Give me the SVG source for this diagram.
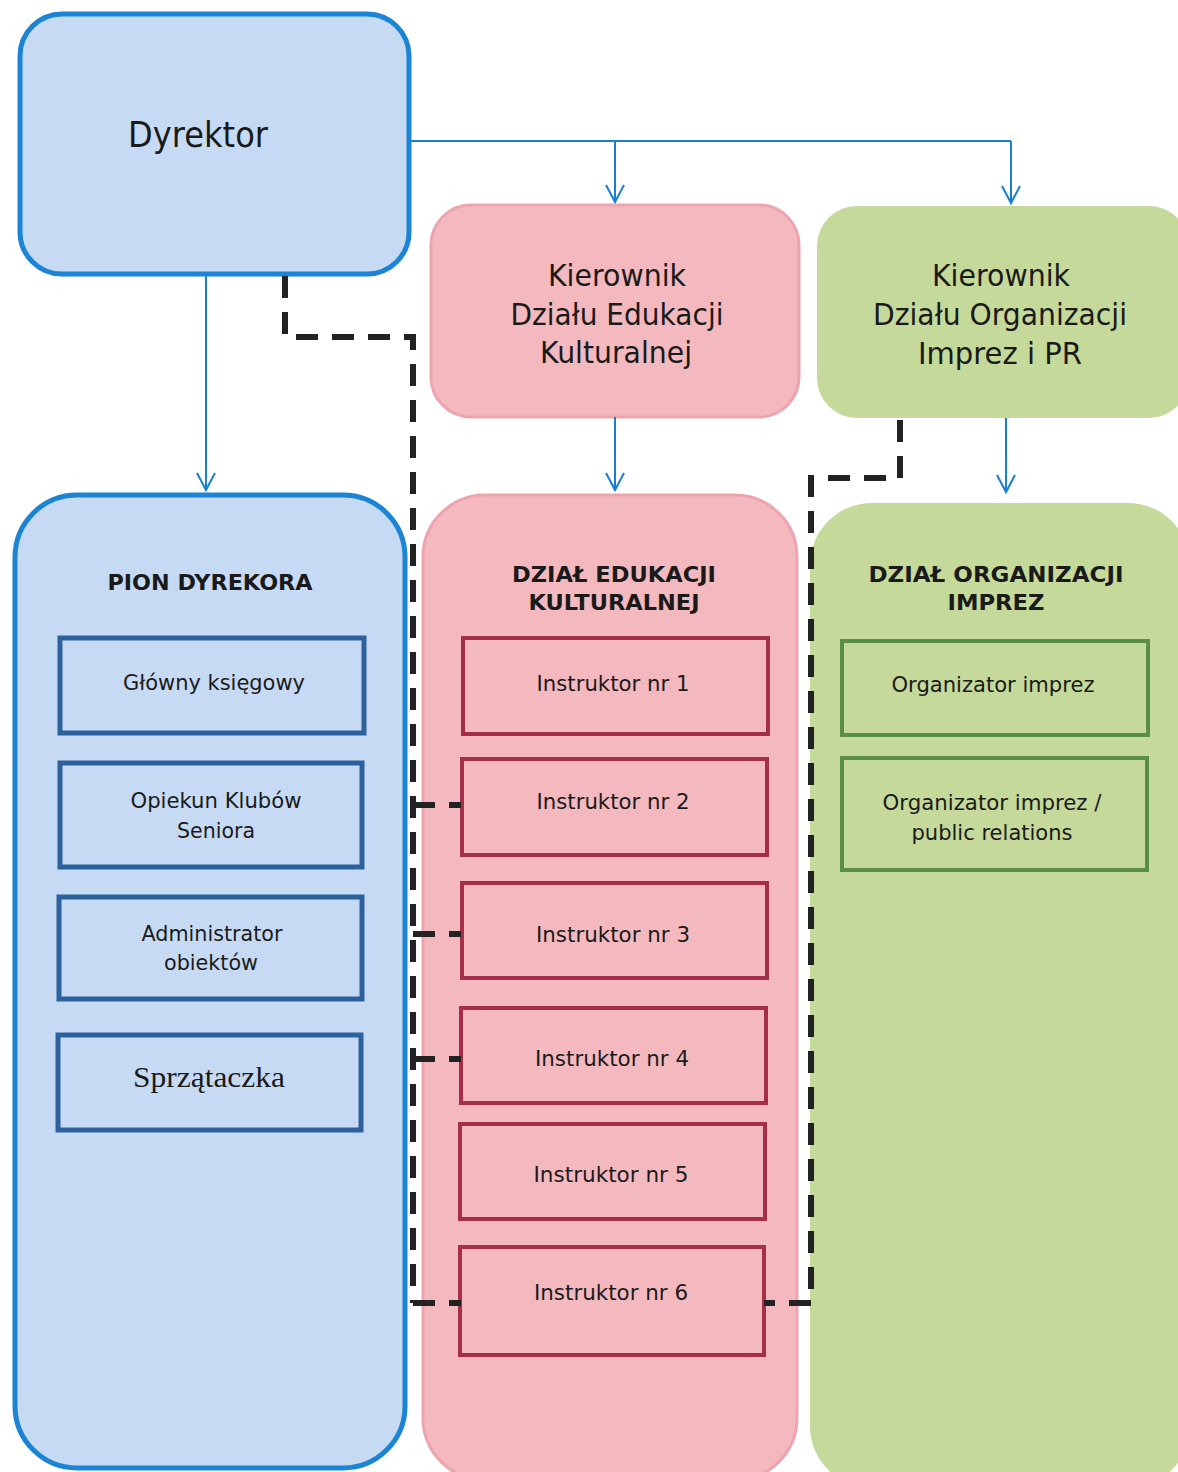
<svg xmlns="http://www.w3.org/2000/svg" width="1178" height="1472" viewBox="0 0 1178 1472">
<style>
.t{font-family:"DejaVu Sans","Noto Sans",sans-serif;fill:#1a1a1a;text-anchor:middle}
.big{font-size:30px}
.sm{font-size:22px}
.hd{font-size:21px;font-weight:bold}
.blueBox{fill:#c7daf4;stroke:#1b84d4;stroke-width:5}
.pinkBox{fill:#f4b8bf;stroke:#eea4ae;stroke-width:3}
.greenBox{fill:#c5d99b}
.bIn{fill:none;stroke:#2c619e;stroke-width:5}
.rIn{fill:none;stroke:#a52f4b;stroke-width:4}
.gIn{fill:none;stroke:#5b8e45;stroke-width:4}
.arr{fill:none;stroke:#1b7fcf;stroke-width:2}
.dash{fill:none;stroke:#222;stroke-width:6;stroke-dasharray:22 14}
</style>
<defs>
<marker id="v" markerUnits="userSpaceOnUse" markerWidth="22" markerHeight="22" viewBox="-19 -11 22 22" refX="0" refY="0" orient="auto">
<path d="M-17,-9 L0,0 L-17,9" fill="none" stroke="#1b7fcf" stroke-width="2"/>
</marker>
</defs>
<rect width="1178" height="1472" fill="#fff"/>

<g id="dyrektor">
<rect class="blueBox" x="20" y="14" width="389" height="260" rx="42"/>
<text class="t" x="198" y="147" font-size="36" textLength="140" lengthAdjust="spacingAndGlyphs">Dyrektor</text>
</g>

<g id="kierownik-edukacji">
<rect class="pinkBox" x="431" y="205" width="368" height="212" rx="40"/>
<text class="t big" x="617" y="286" textLength="138" lengthAdjust="spacingAndGlyphs">Kierownik</text>
<text class="t big" x="617" y="325" textLength="213" lengthAdjust="spacingAndGlyphs">Działu Edukacji</text>
<text class="t big" x="616" y="363" textLength="152" lengthAdjust="spacingAndGlyphs">Kulturalnej</text>
</g>

<g id="kierownik-organizacji">
<rect class="greenBox" x="817" y="206" width="372" height="212" rx="40"/>
<text class="t big" x="1001" y="286" textLength="138" lengthAdjust="spacingAndGlyphs">Kierownik</text>
<text class="t big" x="1000" y="325" textLength="254" lengthAdjust="spacingAndGlyphs">Działu Organizacji</text>
<text class="t big" x="1000" y="364" textLength="164" lengthAdjust="spacingAndGlyphs">Imprez i PR</text>
</g>

<g id="pion-dyrektora">
<rect class="blueBox" x="15" y="495" width="390" height="973" rx="62"/>
<text class="t hd" x="210" y="590" textLength="205" lengthAdjust="spacingAndGlyphs">PION DYREKORA</text>
</g>
<g id="glowny-ksiegowy">
<rect class="bIn" x="60" y="638" width="304" height="95"/>
<text class="t sm" x="214" y="690" textLength="182" lengthAdjust="spacingAndGlyphs">Główny księgowy</text>
</g>
<g id="opiekun">
<rect class="bIn" x="60" y="763" width="302" height="104"/>
<text class="t sm" x="216" y="808" textLength="171" lengthAdjust="spacingAndGlyphs">Opiekun Klubów</text>
<text class="t sm" x="216" y="838" textLength="78" lengthAdjust="spacingAndGlyphs">Seniora</text>
</g>
<g id="administrator">
<rect class="bIn" x="59" y="897" width="303" height="102"/>
<text class="t sm" x="212" y="941" textLength="141" lengthAdjust="spacingAndGlyphs">Administrator</text>
<text class="t sm" x="211" y="970" textLength="94" lengthAdjust="spacingAndGlyphs">obiektów</text>
</g>
<g id="sprzataczka">
<rect class="bIn" x="58" y="1035" width="303" height="95"/>
<text x="209" y="1087" font-family="'Liberation Serif','DejaVu Serif',serif" font-size="29" fill="#1a1a1a" text-anchor="middle" textLength="152" lengthAdjust="spacingAndGlyphs">Sprzątaczka</text>
</g>

<g id="dzial-edukacji">
<rect class="pinkBox" x="423" y="495" width="374" height="985" rx="62"/>
<text class="t hd" x="614" y="582" textLength="204" lengthAdjust="spacingAndGlyphs">DZIAŁ EDUKACJI</text>
<text class="t hd" x="614" y="610" textLength="171" lengthAdjust="spacingAndGlyphs">KULTURALNEJ</text>
</g>
<g id="instruktor-1">
<rect class="rIn" x="463" y="638" width="305" height="96"/>
<text class="t sm" x="613" y="691" textLength="153" lengthAdjust="spacingAndGlyphs">Instruktor nr 1</text>
</g>
<g id="instruktor-2">
<rect class="rIn" x="462" y="759" width="305" height="96"/>
<text class="t sm" x="613" y="809" textLength="153" lengthAdjust="spacingAndGlyphs">Instruktor nr 2</text>
</g>
<g id="instruktor-3">
<rect class="rIn" x="462" y="883" width="305" height="95"/>
<text class="t sm" x="613" y="942" textLength="154" lengthAdjust="spacingAndGlyphs">Instruktor nr 3</text>
</g>
<g id="instruktor-4">
<rect class="rIn" x="461" y="1008" width="305" height="95"/>
<text class="t sm" x="612" y="1066" textLength="154" lengthAdjust="spacingAndGlyphs">Instruktor nr 4</text>
</g>
<g id="instruktor-5">
<rect class="rIn" x="460" y="1124" width="305" height="95"/>
<text class="t sm" x="611" y="1182" textLength="155" lengthAdjust="spacingAndGlyphs">Instruktor nr 5</text>
</g>
<g id="instruktor-6">
<rect class="rIn" x="460" y="1247" width="304" height="108"/>
<text class="t sm" x="611" y="1300" textLength="154" lengthAdjust="spacingAndGlyphs">Instruktor nr 6</text>
</g>

<g id="dzial-organizacji">
<rect class="greenBox" x="810" y="503" width="380" height="985" rx="62"/>
<text class="t hd" x="996" y="582" textLength="255" lengthAdjust="spacingAndGlyphs">DZIAŁ ORGANIZACJI</text>
<text class="t hd" x="996" y="610" textLength="97" lengthAdjust="spacingAndGlyphs">IMPREZ</text>
</g>
<g id="organizator-imprez">
<rect class="gIn" x="842" y="641" width="306" height="94"/>
<text class="t sm" x="993" y="692" textLength="203" lengthAdjust="spacingAndGlyphs">Organizator imprez</text>
</g>
<g id="organizator-pr">
<rect class="gIn" x="842" y="758" width="305" height="112"/>
<text class="t sm" x="992" y="810" textLength="219" lengthAdjust="spacingAndGlyphs">Organizator imprez /</text>
<text class="t sm" x="992" y="840" textLength="161" lengthAdjust="spacingAndGlyphs">public relations</text>
</g>

<g id="connectors">
<polyline class="arr" points="409,141 1011,141"/>
<line class="arr" x1="615" y1="141" x2="615" y2="202" marker-end="url(#v)"/>
<line class="arr" x1="1011" y1="141" x2="1011" y2="203" marker-end="url(#v)"/>
<line class="arr" x1="206" y1="274" x2="206" y2="490" marker-end="url(#v)"/>
<line class="arr" x1="615" y1="417" x2="615" y2="490" marker-end="url(#v)"/>
<line class="arr" x1="1006" y1="418" x2="1006" y2="492" marker-end="url(#v)"/>
<polyline class="dash" points="285,276 285,337 413,337 413,1303"/>
<line class="dash" x1="413" y1="805" x2="461" y2="805"/>
<line class="dash" x1="413" y1="934" x2="461" y2="934"/>
<line class="dash" x1="413" y1="1059" x2="461" y2="1059"/>
<line class="dash" x1="413" y1="1303" x2="461" y2="1303"/>
<polyline class="dash" points="900,420 900,478 811,478 811,1303 764,1303"/>
</g>
</svg>
